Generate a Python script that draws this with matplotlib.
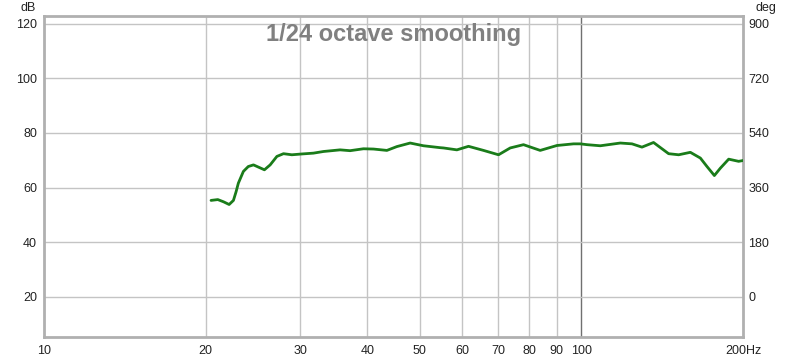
import matplotlib
matplotlib.use("Agg")
import matplotlib.pyplot as plt
from matplotlib.ticker import FixedLocator, NullLocator

plt.rcParams['font.family'] = ['Liberation Sans', 'DejaVu Sans']

freq = [20.46, 21.06, 21.58, 22.11, 22.52, 22.78, 23.0, 23.5, 24.0, 24.54, 25.06, 25.72,
        26.36, 27.13, 27.91, 28.93, 30.2, 31.73, 33.12, 35.57, 37.13, 39.32, 41.05,
        43.47, 45.37, 48.03, 50.85, 54.63, 55.4, 58.68, 61.68, 65.77, 70.15, 73.75,
        78.07, 83.86, 90.1, 96.75, 99.6, 102.5, 108.5, 118.2, 124.3, 129.7, 136.3,
        145.4, 151.8, 159.6, 166.6, 171.4, 176.9, 181.5, 188.1, 196.3, 200.0]
spl = [55.3, 55.6, 54.8, 53.8, 55.3, 58.5, 61.6, 65.9, 67.7, 68.3, 67.5, 66.5,
       68.3, 71.4, 72.4, 72.0, 72.3, 72.6, 73.2, 73.8, 73.5, 74.2, 74.1,
       73.6, 75.0, 76.3, 75.3, 74.6, 74.5, 73.8, 75.1, 73.6, 72.0, 74.5,
       75.7, 73.6, 75.4, 76.0, 76.0, 75.7, 75.3, 76.3, 76.0, 74.8, 76.5,
       72.4, 72.0, 72.9, 70.8, 67.7, 64.4, 67.1, 70.4, 69.6, 69.9]

x_ticks = [10, 20, 30, 40, 50, 60, 70, 80, 90, 100, 200]
x_labels = ['10', '20', '30', '40', '50', '60', '70', '80', '90', '100', '200Hz']
y_ticks = [20, 40, 60, 80, 100, 120]
deg_ticks = [0, 180, 360, 540, 720, 900]
title = '1/24 octave smoothing'

fig = plt.figure(figsize=(8, 3.6), dpi=100)
ax = fig.add_axes([44/800, 23/360, 699/800, 321/360])
ax.set_xscale('log')
ax.set_xlim(10, 200)
ylo, yhi = 5.3, 122.8
ax.set_ylim(ylo, yhi)

ax.xaxis.set_major_locator(FixedLocator(x_ticks))
ax.xaxis.set_minor_locator(NullLocator())
ax.set_xticklabels(x_labels)
ax.set_yticks(y_ticks)

for f in x_ticks[1:-1]:
    ax.axvline(f, color='#707070' if f == 100 else '#c4c4c4', lw=1.0, zorder=1)
for v in y_ticks:
    ax.axhline(v, color='#c4c4c4', lw=1.0, zorder=1)

ax.plot(freq, spl, color='#1a7c1a', lw=2.0, zorder=3,
        solid_joinstyle='round', solid_capstyle='round')

ax.tick_params(axis='both', length=0, labelsize=9, colors='#222222')
ax.tick_params(axis='x', pad=6)
ax.tick_params(axis='y', pad=5)
for s in ax.spines.values():
    s.set_color('#b0b0b0')
    s.set_linewidth(2)

ax2 = ax.twinx()
ax2.set_ylim((ylo - 20) * 9, (yhi - 20) * 9)
ax2.set_yticks(deg_ticks)
ax2.tick_params(axis='y', length=0, labelsize=9, colors='#222222', pad=4)
for s in ax2.spines.values():
    s.set_visible(False)

ax.text(0.5, 0.943, title, transform=ax.transAxes, ha='center', va='center',
        fontsize=17, fontweight='bold', color='#808080', zorder=4)

fig.text(28/800, 1 - 8/360, 'dB', ha='center', va='center', fontsize=9, color='#222222')
fig.text(766/800, 1 - 8/360, 'deg', ha='center', va='center', fontsize=9, color='#222222')

fig.savefig('out.png', dpi=100, facecolor='white')
